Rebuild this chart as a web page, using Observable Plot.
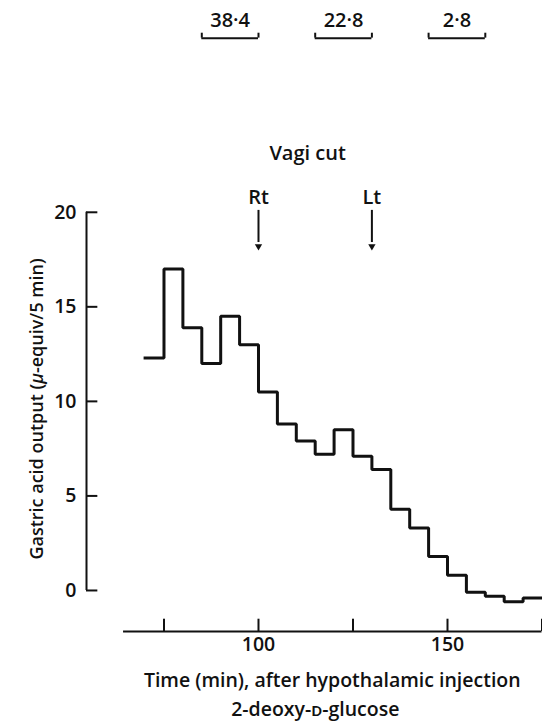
<!DOCTYPE html>
<html>
<head>
<meta charset="utf-8">
<script src="https://cdn.jsdelivr.net/npm/d3@7"></script>
<script src="https://cdn.jsdelivr.net/npm/@observablehq/plot@0.6"></script>
<style>
  html, body { margin: 0; padding: 0; background: #fff; }
  #chart svg { display: block; }
</style>
</head>
<body>
<div id="chart"></div>
<script>
// ---- data ----
const binStart = [70, 75, 80, 85, 90, 95, 100, 105, 110, 115, 120, 125, 130, 135, 140, 145, 150, 155, 160, 165, 170];
const acidOutput = [12.3, 17.0, 13.9, 12.0, 14.5, 13.0, 10.5, 8.8, 7.9, 7.2, 8.5, 7.1, 6.4, 4.3, 3.3, 1.8, 0.8, -0.1, -0.3, -0.6, -0.4];
const endTime = 175;

const xTicks = [75, 100, 125, 150, 175];
const xTickLabels = [100, 150];
const yTicks = [0, 5, 10, 15, 20];

const cutTimes = [100, 130];
const cutLabels = ["Rt", "Lt"];

const bracketStart = [85, 115, 145];
const bracketEnd = [100, 130, 160];
const bracketLabels = ["38·4", "22·8", "2·8"];

const xTitle1 = "Time (min), after hypothalamic injection";
const xTitle2 = "2-deoxy-ᴅ-glucose";
const yTitle = "Gastric acid output (μ-equiv/5 min)";
const cutTitle = "Vagi cut";

// ---- build tables ----
const series = binStart.map((t, i) => ({t, v: acidOutput[i]}));
series.push({t: endTime, v: acidOutput[acidOutput.length - 1]});

const brackets = bracketStart.map((s, i) => ({s, e: bracketEnd[i], m: (s + bracketEnd[i]) / 2, label: bracketLabels[i]}));
const cuts = cutTimes.map((t, i) => ({t, label: cutLabels[i]}));

const xMin = 54.5, yMin = -2.17;
const font = "'Open Sans', Lato, sans-serif";
const ink = "#111";

const chart = Plot.plot({
  width: 542,
  height: 726,
  marginLeft: 86,
  marginRight: 0.5,
  marginTop: 0,
  marginBottom: 95,
  style: {fontFamily: font, fontSize: "19px", fontWeight: 600, color: ink, background: "#fff"},
  x: {domain: [xMin, endTime], axis: null},
  y: {domain: [yMin, 31.2], axis: null},
  marks: [
    // y axis line and inward ticks
    Plot.ruleX([xMin], {y1: 0, y2: 20, strokeWidth: 2, stroke: ink}),
    Plot.ruleY(yTicks, {x1: xMin, x2: xMin + 3, strokeWidth: 2, stroke: ink}),
    Plot.text(yTicks, {y: d => d, frameAnchor: "left", dx: -10, textAnchor: "end", fontSize: 19.5, fill: ink}),
    // x axis line and upward ticks
    Plot.ruleY([yMin], {x1: 64.3, x2: endTime, strokeWidth: 2, stroke: ink}),
    Plot.ruleX(xTicks, {y1: yMin, y2: yMin + 0.65, strokeWidth: 2, stroke: ink}),
    Plot.text(xTickLabels, {x: d => d, frameAnchor: "bottom", dy: 19, fontSize: 19.5, fill: ink}),
    // axis titles
    Plot.text([xTitle1], {frameAnchor: "bottom", dx: 18, dy: 55, fontSize: 19.5, fill: ink}),
    Plot.text([xTitle2], {frameAnchor: "bottom", dx: 1, dy: 84, fontSize: 19.5, fill: ink}),
    Plot.text([yTitle], {y: [9.6], frameAnchor: "left", textAnchor: "middle", dx: -49, rotate: -90, fontSize: 18, fill: ink}),
    // step series
    Plot.line(series, {x: "t", y: "v", curve: "step-after", strokeWidth: 3, stroke: ink, strokeLinejoin: "miter", strokeLinecap: "square"}),
    // vagotomy annotations
    Plot.text([cutTitle], {x: [113], y: [23.1], fontSize: 20, fill: ink}),
    Plot.text(cuts, {x: "t", y: 20.77, text: "label", fontSize: 20, fill: ink}),
    Plot.ruleX(cuts, {x: "t", y1: 20.1, y2: 18.4, strokeWidth: 2, stroke: ink}),
    Plot.dot(cuts, {x: "t", y: 18.2, symbol: "triangle2", rotate: 180, r: 3.5, fill: ink, stroke: "none"}),
    // secretion period brackets
    Plot.ruleY(brackets, {x1: "s", x2: "e", y: 29.21, strokeWidth: 2, stroke: ink}),
    Plot.ruleX(brackets, {x: "s", y1: 29.21, y2: 29.47, strokeWidth: 2, stroke: ink}),
    Plot.ruleX(brackets, {x: "e", y1: 29.21, y2: 29.47, strokeWidth: 2, stroke: ink}),
    Plot.text(brackets, {x: "m", y: 30.16, text: "label", fontSize: 20, fill: ink})
  ]
});
document.getElementById("chart").appendChild(chart);

// italic mu in the y title (kept as real text)
d3.select(chart).selectAll("text").filter(function () { return this.textContent === yTitle; })
  .each(function () {
    const t = d3.select(this);
    t.text(null);
    t.append("tspan").text("Gastric acid output (");
    t.append("tspan").attr("font-style", "italic").text("μ");
    t.append("tspan").text("-equiv/5 min)");
  });
</script>
</body>
</html>
